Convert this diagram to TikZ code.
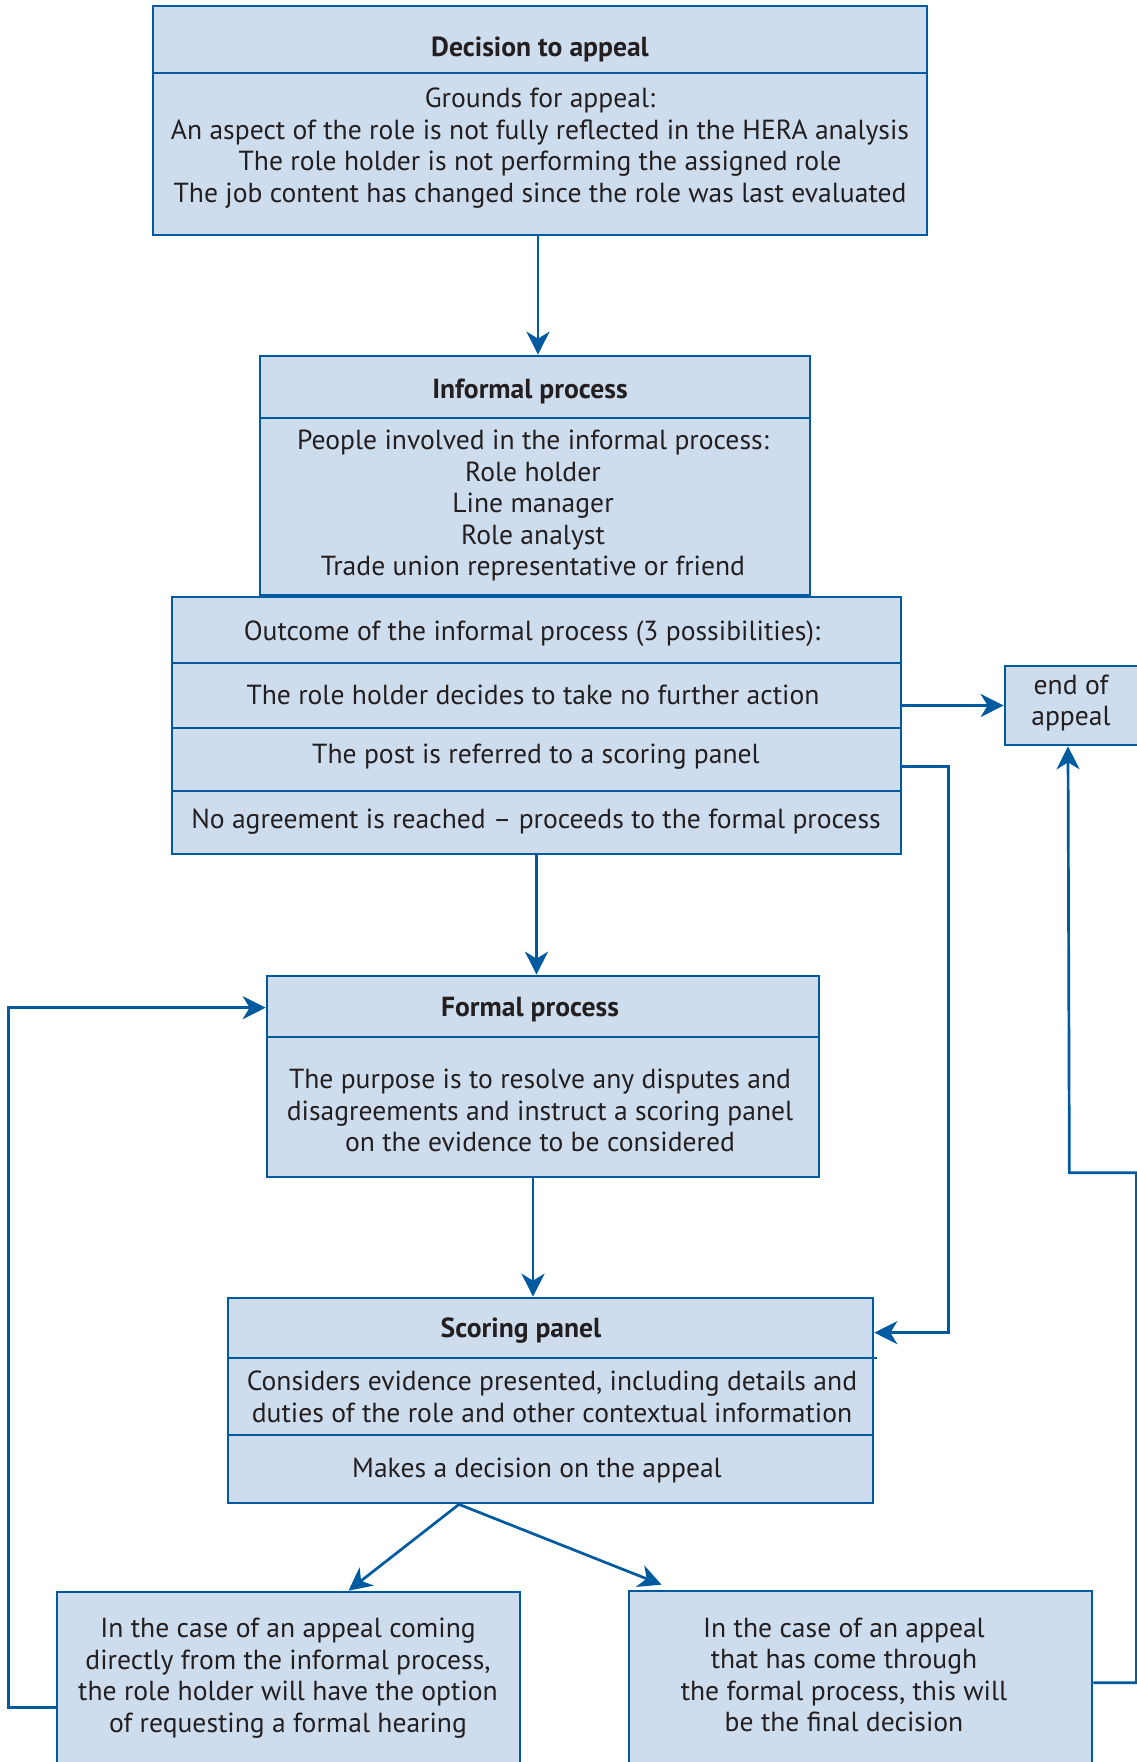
\documentclass[tikz,border=0pt]{standalone}
\usepackage{fontspec}
\setmainfont{PT Sans}
\usetikzlibrary{arrows.meta,calc}
\definecolor{lineblue}{RGB}{0,90,160}
\definecolor{fillblue}{RGB}{206,221,237}
\definecolor{txt}{RGB}{35,31,32}
\begin{document}
\begin{tikzpicture}[x=1pt,y=-1pt,
  box/.style={draw=lineblue,fill=fillblue,line width=2.7pt,inner sep=0pt},
  divider/.style={draw=lineblue,line width=2.7pt},
  conn/.style={draw=lineblue,line width=2.7pt},
  arr/.style={conn,-{Stealth[length=23pt,width=23pt,inset=7pt]}},
  tx/.style={text=txt,align=center,font=\fontsize{27.6}{31.5}\selectfont,inner sep=0pt,yshift=-3pt},
  ttl/.style={tx,font=\fontsize{27.6}{31.5}\selectfont\bfseries}]
\useasboundingbox (0,0) rectangle (1137,1762);
\fill[white] (0,0) rectangle (1137,1762);

% boxes
\node[box,minimum width=774,minimum height=229] (decision) at (540,120.5) {};
\node[box,minimum width=550,minimum height=239] (informal) at (535,475.5) {};
\node[box,minimum width=729,minimum height=257] (outcome) at (536.5,725.5) {};
\node[box,minimum width=140,minimum height=79] (endapp) at (1075,705.5) {};
\node[box,minimum width=552,minimum height=201] (formal) at (543,1076.5) {};
\node[box,minimum width=645,minimum height=205] (scoring) at (550.5,1400.5) {};
\node[box,minimum width=463,minimum height=200] (hearing) at (288.5,1692) {};
\node[box,minimum width=463,minimum height=200] (final) at (860.5,1691) {};

% dividers
\draw[divider] (153,73) -- (927,73);
\draw[divider] (260,418) -- (810,418);
\draw[divider] (172,663) -- (901,663);
\draw[divider] (172,728) -- (901,728);
\draw[divider] (172,791) -- (901,791);
\draw[divider] (267,1037) -- (819,1037);
\draw[divider] (228,1358) -- (877,1358);
\draw[divider] (228,1435) -- (873,1435);

% texts
\node[ttl] (t1) at (540,46) {Decision to appeal};
\node[tx] (b1) at (540,145) {Grounds for appeal:\\An aspect of the role is not fully reflected in the HERA analysis\\The role holder is not performing the assigned role\\The job content has changed since the role was last evaluated};
\node[ttl] (t2) at (530,388) {Informal process};
\node[tx] (b2) at (533,502.5) {People involved in the informal process:\\Role holder\\Line manager\\Role analyst\\Trade union representative or friend};
\node[tx] (o1) at (532,631) {Outcome of the informal process (3 possibilities):};
\node[tx] (o2) at (533,692) {The role holder decides to take no further action};
\node[tx] (o3) at (536,754) {The post is referred to a scoring panel};
\node[tx] (o4) at (536,819) {No agreement is reached -- proceeds to the formal process};
\node[tx] (e1) at (1071,700) {end of\\appeal};
\node[ttl] (t3) at (530,1007) {Formal process};
\node[tx] (b3) at (540,1107.5) {The purpose is to resolve any disputes and\\disagreements and instruct a scoring panel\\on the evidence to be considered};
\node[ttl] (t4) at (521,1328) {Scoring panel};
\node[tx] (b4) at (552,1394) {Considers evidence presented, including details and\\duties of the role and other contextual information};
\node[tx] (b5) at (537,1467) {Makes a decision on the appeal};
\node[tx] (h1) at (288,1675) {In the case of an appeal coming\\directly from the informal process,\\the role holder will have the option\\of requesting a formal hearing};
\node[tx] (f1) at (844,1672) {In the case of an appeal\\that has come through\\the formal process, this will\\be the final decision};

% connectors
\draw[arr] ([xshift=-2]decision.south) -- ([xshift=-2]decision.south |- informal.north);
\draw[arr] (outcome.east |- endapp.west) -- (endapp.west);
\draw[arr] ($(outcome.north east)+(0,171)$) -- ++(46,0) |- ($(scoring.north east)+(0,36)$);
\draw[arr] (outcome.south) -- (outcome.south |- formal.north);
\draw[arr] ([xshift=-10]formal.south) -- ([xshift=-10]formal.south |- scoring.north);
\coordinate (split) at ([xshift=-91.5]scoring.south);
\draw[arr] (split) -- ($(hearing.north)+(60,0)$);
\draw[arr] (split) -- ($(final.north)+(-199,-5)$);
\draw[arr] ($(hearing.north west)+(0,117)$) -- ++(-47,0) |- ($(formal.north west)+(0,33)$);
\draw[arr] ($(final.north east)+(0,93)$) -- ++(43,0) |- ++(-67,-510) -- ([xshift=-7]endapp.south);
\end{tikzpicture}
\end{document}
